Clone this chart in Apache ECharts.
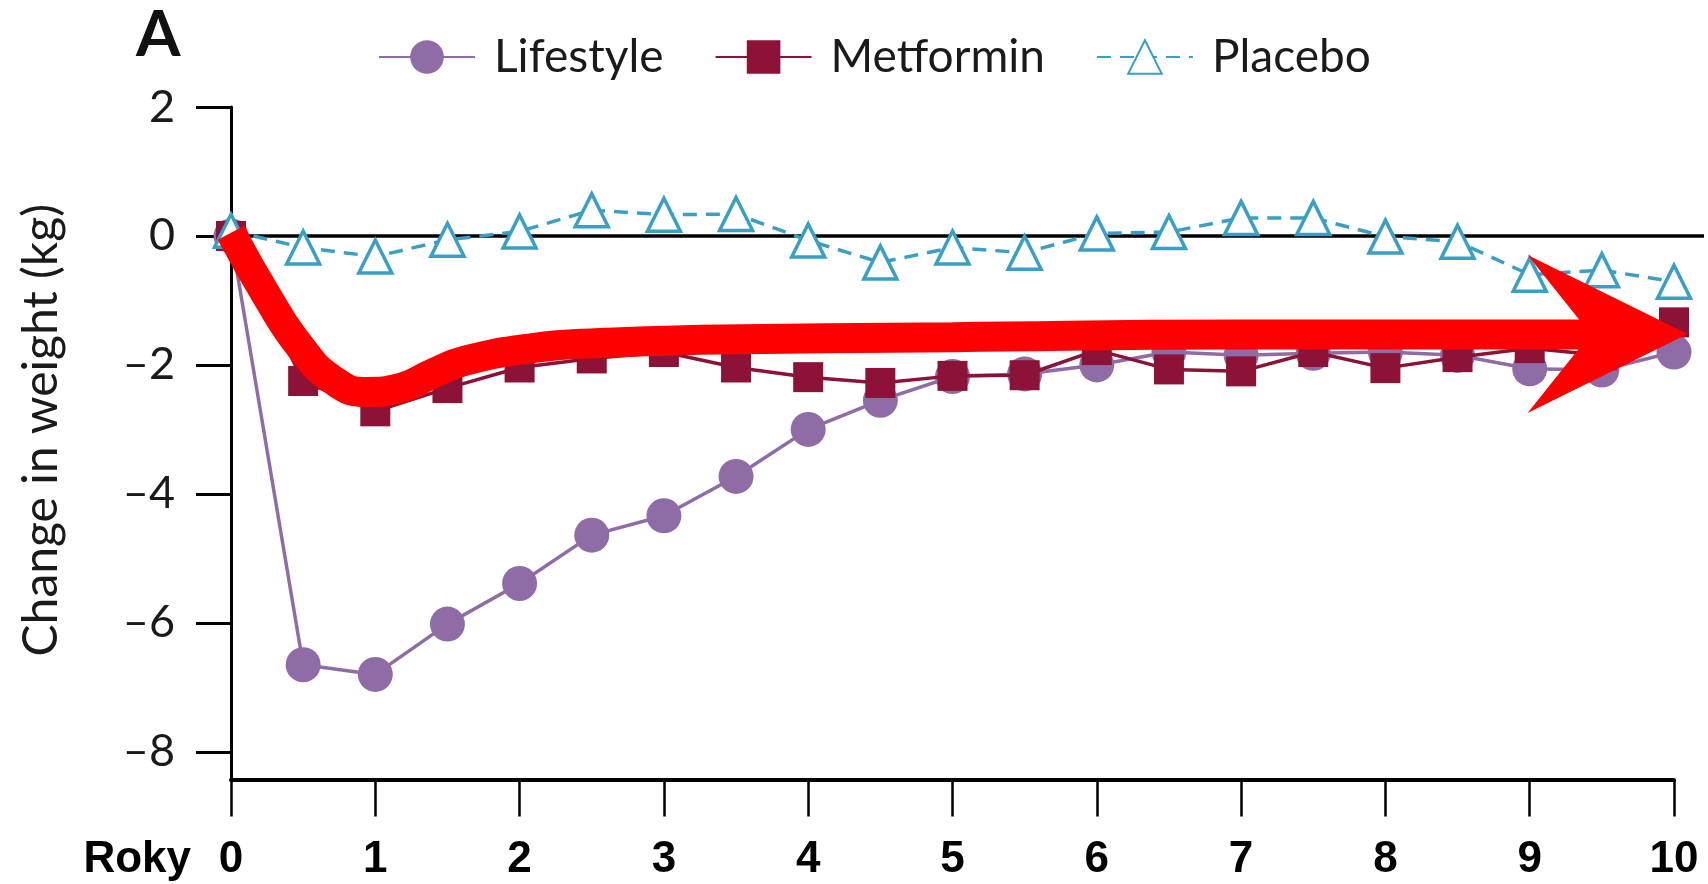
<!DOCTYPE html>
<html><head><meta charset="utf-8">
<script src="https://cdn.jsdelivr.net/npm/echarts@6/dist/echarts.min.js"></script>
<style>html,body{margin:0;padding:0;background:#fff}#c{width:1708px;height:884px}</style>
</head><body><div id="c"></div>
<script>
// ---- data ----
const years = [0,0.5,1,1.5,2,2.5,3,3.5,4,4.5,5,5.5,6,6.5,7,7.5,8,8.5,9,9.5,10];
const lifestyle = [0,-6.65,-6.80,-6.02,-5.39,-4.64,-4.34,-3.73,-3.0,-2.55,-2.18,-2.14,-2.0,-1.8,-1.85,-1.82,-1.8,-1.85,-2.06,-2.08,-1.8];
const metformin = [0,-2.25,-2.72,-2.36,-2.04,-1.9,-1.8,-2.04,-2.19,-2.28,-2.17,-2.16,-1.77,-2.07,-2.1,-1.8,-2.05,-1.88,-1.74,-1.85,-1.34];
const placebo = [0.08,-0.18,-0.32,-0.06,0.07,0.40,0.33,0.34,-0.07,-0.41,-0.18,-0.26,0.04,0.06,0.28,0.28,-0.01,-0.09,-0.6,-0.53,-0.71];
const xTickLabels = ['0','1','2','3','4','5','6','7','8','9','10'];
const yTicks = [2,0,-2,-4,-6,-8];
const seriesNames = ['Lifestyle','Metformin','Placebo'];
// red annotation arrow (shaft path and head position, in data units)
const arrowX = [0,0.25,0.48,0.71,0.94,1.17,1.4,1.63,2.09,2.56,3.25,5,7,9.5];
const arrowY = [0.05,-0.94,-1.72,-2.24,-2.42,-2.36,-2.13,-1.93,-1.74,-1.66,-1.61,-1.57,-1.53,-1.53];
const arrowHead = [9.54,-1.52];
const zeroLine = [[0,0],[10.21,0]];

const F = 'Lato, "Open Sans", sans-serif';
const FB = '"Liberation Sans Narrow", "Liberation Sans", Arial, sans-serif';
const pairs = (xs, ys) => xs.map((x, i) => [x, ys[i]]);

const chart = echarts.init(document.getElementById('c'), null, {renderer: 'canvas'});
chart.setOption({
  animation: false,
  backgroundColor: '#fff',
  title: {text: 'A', left: 136, top: 3, padding: 0,
    textStyle: {fontFamily: F, fontWeight: 'bold', fontSize: 64, color: '#111'}},
  legend: {left: 378, top: 34, padding: 0, itemWidth: 96, itemHeight: 42, itemGap: 51,
    data: seriesNames, selectedMode: false,
    textStyle: {fontFamily: F, fontSize: 46, color: '#1a1a1a', padding: [0,0,0,14]}},
  grid: [
    {left: 231, right: 34, top: 107, bottom: 104.5, containLabel: false, outerBoundsMode: 'none'},
    {left: 231, right: 4, top: 107, bottom: 104.5, containLabel: false, outerBoundsMode: 'none'}
  ],
  xAxis: [
    {type: 'value', gridIndex: 0, min: 0, max: 10, interval: 1,
      axisLine: {onZero: false, lineStyle: {color: '#000', width: 4}},
      axisTick: {length: 37, lineStyle: {color: '#000', width: 2.5}},
      splitLine: {show: false},
      axisLabel: {margin: 58, fontFamily: FB, fontWeight: 'bold', fontSize: 44, color: '#000',
        formatter: v => xTickLabels[v]},
      name: 'Roky', nameLocation: 'start', nameGap: 40,
      nameTextStyle: {fontFamily: FB, fontWeight: 'bold', fontSize: 44, color: '#000',
        verticalAlign: 'top', padding: [58,0,0,0]}},
    {type: 'value', gridIndex: 1, min: 0, max: 10.21, show: false}
  ],
  yAxis: [
    {type: 'value', gridIndex: 0, min: -8.43, max: 2,
      axisLine: {show: true, onZero: false, lineStyle: {color: '#000', width: 3}},
      axisTick: {show: true, length: 35, lineStyle: {color: '#000', width: 3}, customValues: yTicks},
      axisLabel: {customValues: yTicks, margin: 56, fontFamily: F, fontSize: 45, color: '#1a1a1a',
        formatter: v => v < 0 ? '\u2013' + (-v) : String(v)},
      splitLine: {show: false},
      name: 'Change in weight (kg)', nameLocation: 'middle', nameGap: 165,
      nameTextStyle: {fontFamily: F, fontSize: 48, color: '#1a1a1a', padding: [0,0,0,26]}},
    {type: 'value', gridIndex: 1, min: -8.43, max: 2, show: false}
  ],
  series: [
    {name: 'zero', type: 'line', xAxisIndex: 1, yAxisIndex: 1, data: zeroLine, symbol: 'none',
      lineStyle: {color: '#000', width: 3.5}, z: 1, silent: true},
    {name: 'Lifestyle', type: 'line', data: pairs(years, lifestyle), symbol: 'circle', symbolSize: 35,
      lineStyle: {color: '#8F6CA6', width: 3.5}, itemStyle: {color: '#8F6CA6'}, z: 2, silent: true},
    {name: 'Metformin', type: 'line', data: pairs(years, metformin), symbol: 'rect', symbolSize: 30,
      lineStyle: {color: '#8C1237', width: 3.5}, itemStyle: {color: '#8C1237'}, z: 3, silent: true},
    {name: 'Placebo', type: 'line', data: pairs(years, placebo), symbol: 'triangle', symbolSize: 33,
      lineStyle: {color: '#3A9FC4', width: 3.5, type: [14,9]},
      itemStyle: {color: '#fff', borderColor: '#3A9FC4', borderWidth: 3.5}, z: 4, silent: true},
    {name: 'arrow', type: 'line', data: pairs(arrowX, arrowY), smooth: 0.5, symbol: 'none', clip: false,
      lineStyle: {color: '#FF0000', width: 30, cap: 'butt'}, z: 5, silent: true},
    {name: 'arrowHead', type: 'scatter', data: [arrowHead], clip: false,
      symbol: 'path://M0,0L160,79L0,158L63,79Z', symbolSize: [160,158],
      itemStyle: {color: '#FF0000', opacity: 1}, z: 6, silent: true}
  ]
});
</script></body></html>
